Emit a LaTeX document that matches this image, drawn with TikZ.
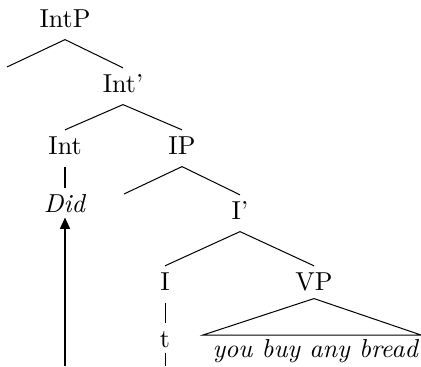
\documentclass[tikz,border=0pt]{standalone}
\usetikzlibrary{arrows.meta}
\begin{document}
\begin{tikzpicture}[x=0.397pt,y=-0.397pt,
  every node/.style={font=\fontsize{10.3pt}{12.4pt}\selectfont},
  lab/.style={inner sep=0pt, text height=9.4pt, text depth=4.8pt, anchor=base},
  leaf/.style={lab, text depth=2pt},
  br/.style={line width=0.4pt},
  mv/.style={line width=0.4pt, -{Triangle[length=4.5pt,width=4pt]}},
]
\useasboundingbox (0,0) rectangle (421,366);
% nodes
\node[lab] (IntP) at (65,27) {IntP};
\node[lab] (Intbar) at (123,92) {Int'};
\node[lab] (Int) at (65,154) {Int};
\node[lab] (IP) at (182,154) {IP};
\node[leaf] (Did) at (65,212) {\textit{Did}};
\node[lab] (Ibar) at (240,219) {I'};
\node[lab] (I) at (165,290) {I};
\node[lab, text depth=3.2pt] (VP) at (314,290) {VP};
\node[leaf] (t) at (165,347) {t};
\node[inner sep=0pt, anchor=base west] (yb) at (212,357) {\itshape you buy any bread};
\coordinate (spec) at (7,67);
\coordinate (ipspec) at (124,194);
\coordinate (triL) at (203,335);
\coordinate (triR) at (421,335);
\coordinate (tbot) at (165,366);
\coordinate (foot) at (65,366);
% branches
\draw[br] (spec) -- (IntP.south) -- (Intbar.north);
\draw[br] (Int.north) -- (Intbar.south) -- (IP.north);
\draw[br] (Int.south) -- (Did.north);
\draw[br] (ipspec) -- (IP.south) -- (Ibar.north);
\draw[br] (I.north) -- (Ibar.south) -- (VP.north);
\draw[br] (VP.south) -- (triL) -- (triR) -- cycle;
\draw[br] (I.south) -- (t.north);
\draw[br] (t.south) -- (tbot);
\draw[mv] (foot) -- (Did.south);
\end{tikzpicture}
\end{document}
